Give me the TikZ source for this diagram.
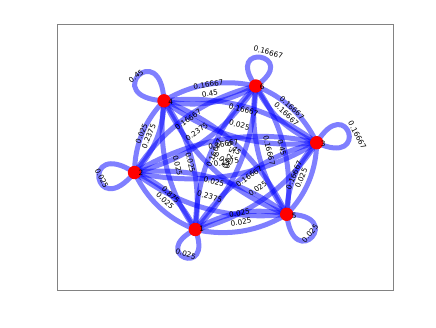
\documentclass[tikz,border=0pt]{standalone}
\usepackage{fontspec}
\setmainfont{DejaVu Sans}
\usetikzlibrary{backgrounds}
\definecolor{framegray}{RGB}{130,130,130}
\newcommand{\lbfont}{\fontsize{7.3}{8}\selectfont}
\begin{document}
\begin{tikzpicture}[x=1pt,y=1pt,
  edge/.style={draw=blue, draw opacity=0.5, line width=5pt},
  curve/.style={bend right=21.8, looseness=0.917},
  labcurve/.style={bend right=11.31, looseness=0.868},
  elab/.style={pos=0.5, sloped, anchor=south, inner sep=1.5pt, font=\lbfont, text=black},
  vert/.style={circle, fill=red, minimum size=13.4pt, inner sep=0pt},
  vlab/.style={font=\lbfont, inner sep=0pt},
  looplab/.style={font=\lbfont, inner sep=0pt},
  frame/.style={draw=framegray, line width=1pt}]
\useasboundingbox (0,0) rectangle (436,-327);
\draw[frame] (57,-24.3) rectangle (393.3,-290.3);
% nodes
\node[vert] (n1) at (195.3,-229.5) {};
\node[vert] (n2) at (134.5,-172.5) {};
\node[vert] (n3) at (316.7,-142.7) {};
\node[vert] (n4) at (164,-100.8) {};
\node[vert] (n5) at (286.7,-214.3) {};
\node[vert] (n6) at (255.7,-86) {};
\begin{scope}[on background layer]
% pair edges
\foreach \u/\v in {1/2,1/3,1/4,1/5,1/6,2/1,2/3,2/4,2/5,2/6,3/1,3/2,3/4,3/5,3/6,4/1,4/2,4/3,4/5,4/6,5/1,5/2,5/3,5/4,5/6,6/1,6/2,6/3,6/4,6/5}
  \draw[edge] (n\u.center) to[curve] (n\v.center);
% self loops
\draw[edge] (n4.center) .. controls +(177:64.6) and +(93:64.6) .. (n4.center);
\draw[edge] (n6.center) .. controls +(126:56) and +(34:56) .. (n6.center);
\draw[edge] (n3.center) .. controls +(59:60.1) and +(-25:60.1) .. (n3.center);
\draw[edge] (n5.center) .. controls +(0.4:61) and +(-83.6:61) .. (n5.center);
\draw[edge] (n1.center) .. controls +(-69:53.8) and +(-153:53.8) .. (n1.center);
\draw[edge] (n2.center) .. controls +(231:64.6) and +(147:64.6) .. (n2.center);
\end{scope}
% edge labels
\foreach \u/\v/\w in {1/2/0.875,1/3/0.025,1/4/0.025,1/5/0.025,1/6/0.025,
  2/1/0.025,2/3/0.2375,2/4/0.2375,2/5/0.2375,2/6/0.2375,
  3/1/0.16667,3/2/0.16667,3/4/0.16667,3/5/0.16667,3/6/0.16667,
  4/1/0.025,4/2/0.025,4/3/0.025,4/5/0.025,4/6/0.45,
  5/1/0.025,5/2/0.025,5/3/0.025,5/4/0.45,5/6/0.45,
  6/1/0.16667,6/2/0.16667,6/3/0.16667,6/4/0.16667,6/5/0.16667}
  \path (n\u.center) to[labcurve] node[elab] {\w} (n\v.center);
% loop labels
\node[looplab, rotate=37] (s4) at (136,-76) {0.45};
\node[looplab, rotate=-15] (s6) at (268.3,-52.3) {0.16667};
\node[looplab, rotate=-62] (s3) at (357.3,-135) {0.16667};
\node[looplab, rotate=50] (s5) at (310,-233.3) {0.025};
\node[looplab, rotate=-18] (s1) at (185.7,-253.7) {0.025};
\node[looplab, rotate=-63] (s2) at (101.7,-178.3) {0.025};
% node labels
\node[vlab] (l1) at (201.7,-229.3) {1};
\node[vlab] (l2) at (141,-172.7) {2};
\node[vlab] (l3) at (323.3,-144) {3};
\node[vlab] (l4) at (170.7,-101.7) {4};
\node[vlab] (l5) at (294.3,-215.7) {5};
\node[vlab] (l6) at (262.3,-87.3) {6};
\end{tikzpicture}
\end{document}
